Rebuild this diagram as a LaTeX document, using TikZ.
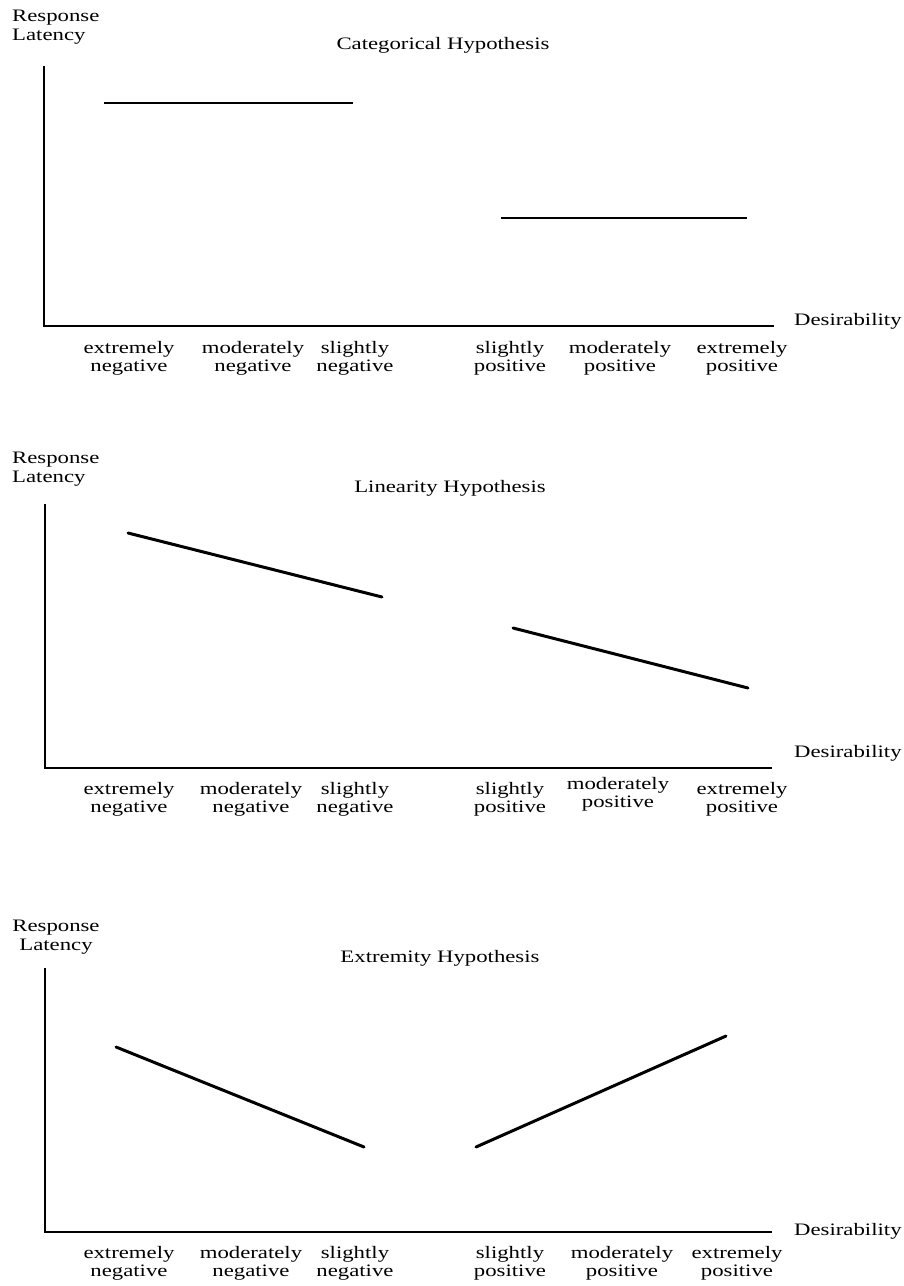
\documentclass[tikz,border=0pt]{standalone}
\usepackage{fontspec}
\setmainfont[FakeStretch=1.3]{Liberation Serif}
\begin{document}
\begin{tikzpicture}[x=1pt,y=-1pt,
  txt/.style={inner sep=0pt,font=\fontsize{17.5}{18}\selectfont},
  lbl/.style={txt,align=center,anchor=center},
  axisline/.style={line width=1.5pt,line cap=rect},
  dataA/.style={line width=2pt},
  dataB/.style={line width=3pt,line cap=round}]
\useasboundingbox (0,0) rectangle (903,1286);
% ---------- Panel 1 ----------
\node[txt,anchor=base west] (r1) at (12,21) {Response};
\node[txt,anchor=base west] (l1) at (12,40) {Latency};
\node[txt,anchor=base] (t1) at (443,49) {Categorical Hypothesis};
\coordinate (p1top) at (44,67);
\coordinate (p1o) at (44,326);
\coordinate (p1end) at (773,326);
\draw[axisline] (p1top) -- (p1o) -- (p1end);
\node[txt,anchor=base west] (d1) at (794,325) {Desirability};
\coordinate (c1a) at (104,103); \coordinate (c1b) at (353,103);
\coordinate (c1c) at (501,218); \coordinate (c1d) at (747,218);
\draw[dataA] (c1a) -- (c1b);
\draw[dataA] (c1c) -- (c1d);
\node[lbl] (n1a) at (129,358) {extremely\\negative};
\node[lbl] (n1b) at (253,358) {moderately\\negative};
\node[lbl] (n1c) at (355,358) {slightly\\negative};
\node[lbl] (n1d) at (510,358) {slightly\\positive};
\node[lbl] (n1e) at (620,358) {moderately\\positive};
\node[lbl] (n1f) at (742,358) {extremely\\positive};
% ---------- Panel 2 ----------
\node[txt,anchor=base west] (r2) at (12,463) {Response};
\node[txt,anchor=base west] (l2) at (12,482) {Latency};
\node[txt,anchor=base] (t2) at (450,492) {Linearity Hypothesis};
\coordinate (p2top) at (45,505);
\coordinate (p2o) at (45,768);
\coordinate (p2end) at (771,768);
\draw[axisline] (p2top) -- (p2o) -- (p2end);
\node[txt,anchor=base west] (d2) at (794,757) {Desirability};
\coordinate (c2a) at (128,533); \coordinate (c2b) at (382,597);
\coordinate (c2c) at (513,628); \coordinate (c2d) at (748,688);
\draw[dataB] (c2a) -- (c2b);
\draw[dataB] (c2c) -- (c2d);
\node[lbl] (n2a) at (129,799) {extremely\\negative};
\node[lbl] (n2b) at (251,799) {moderately\\negative};
\node[lbl] (n2c) at (355,799) {slightly\\negative};
\node[lbl] (n2d) at (510,799) {slightly\\positive};
\node[lbl] (n2e) at (618,794) {moderately\\positive};
\node[lbl] (n2f) at (742,799) {extremely\\positive};
% ---------- Panel 3 ----------
\node[txt,anchor=base] (r3) at (56,931) {Response};
\node[txt,anchor=base] (l3) at (56,950) {Latency};
\node[txt,anchor=base] (t3) at (440,962) {Extremity Hypothesis};
\coordinate (p3top) at (45,969);
\coordinate (p3o) at (45,1232);
\coordinate (p3end) at (771,1232);
\draw[axisline] (p3top) -- (p3o) -- (p3end);
\node[txt,anchor=base west] (d3) at (794,1235) {Desirability};
\coordinate (c3a) at (116,1047); \coordinate (c3b) at (364,1147);
\coordinate (c3c) at (476,1147); \coordinate (c3d) at (726,1036);
\draw[dataB] (c3a) -- (c3b);
\draw[dataB] (c3c) -- (c3d);
\node[lbl] (n3a) at (129,1263) {extremely\\negative};
\node[lbl] (n3b) at (251,1263) {moderately\\negative};
\node[lbl] (n3c) at (355,1263) {slightly\\negative};
\node[lbl] (n3d) at (510,1263) {slightly\\positive};
\node[lbl] (n3e) at (622,1263) {moderately\\positive};
\node[lbl] (n3f) at (737,1263) {extremely\\positive};
\end{tikzpicture}
\end{document}
